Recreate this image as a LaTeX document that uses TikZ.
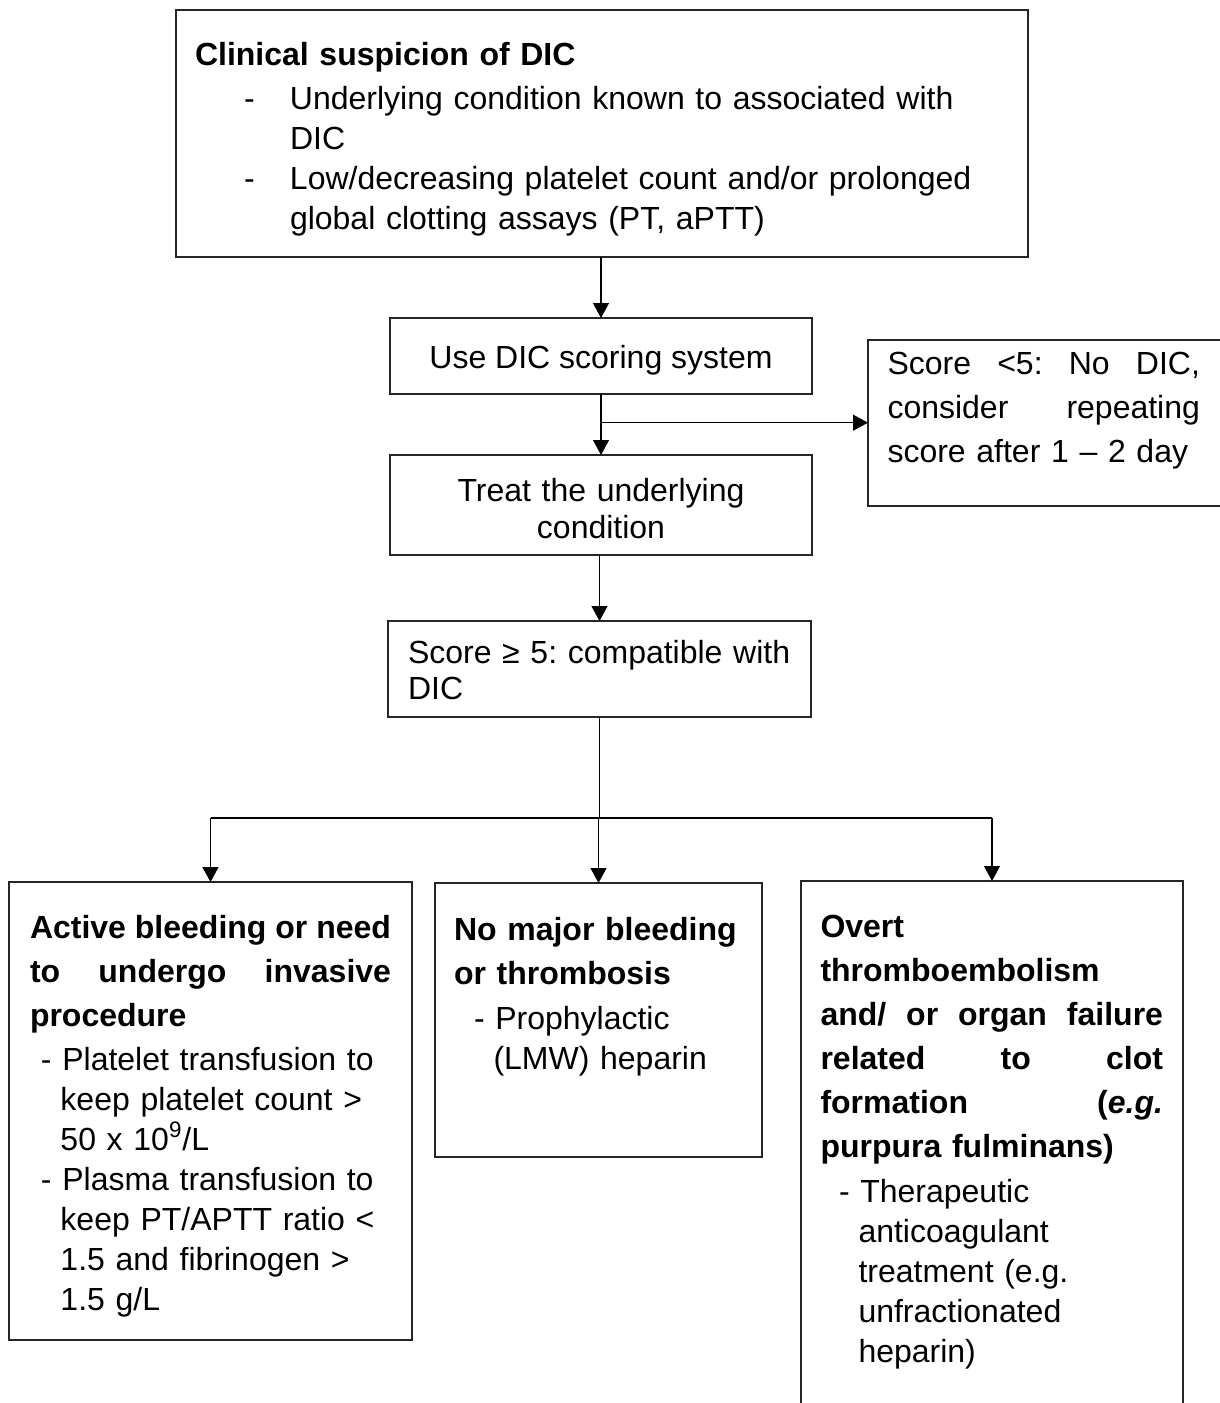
\documentclass[tikz,border=0pt]{standalone}
\usepackage{fontspec}
\setmainfont{Liberation Sans}
\usetikzlibrary{arrows.meta}
\begin{document}
\frenchspacing
\begin{tikzpicture}[x=0.5pt,y=-0.5pt,
  box/.style={draw=black!85, line width=0.6pt, inner sep=0pt, outer sep=0pt},
  txt/.style={inner sep=0pt, outer sep=0pt, align=left, anchor=base west,
    font=\fontsize{16pt}{20pt}\selectfont},
  ctxt/.style={inner sep=0pt, outer sep=0pt, align=center, anchor=base,
    font=\fontsize{16pt}{18.5pt}\selectfont},
  link/.style={line width=0.6pt, draw=black},
  arr/.style={link, -{Triangle[width=8pt,length=7.5pt]}},
]
\useasboundingbox (0,0) rectangle (1220,1403);
\clip (0,0) rectangle (1220,1403);

% frames
\node[box, minimum width=426pt,   minimum height=123.5pt] (top)     at (602,133.5) {};
\node[box, minimum width=211pt,   minimum height=38pt]    (usebox)  at (601,356)   {};
\node[box, minimum width=211pt,   minimum height=50pt]    (treat)   at (601,505)   {};
\node[box, minimum width=211.5pt, minimum height=48pt]    (score)   at (599.5,669) {};
\node[box, minimum width=196pt,   minimum height=83pt]    (note)    at (1064,423)  {};
\node[box, minimum width=201.5pt, minimum height=229pt]   (bleed)   at (210.5,1111) {};
\node[box, minimum width=163.5pt, minimum height=137pt]   (nomajor) at (598.5,1020) {};
\node[box, minimum width=191pt,   minimum height=279.5pt] (thromb)  at (992,1160.5) {};

% texts
\node[txt, text width=420pt] (t-top) at (195,65) {%
\textbf{Clinical suspicion of DIC}\\[2pt]
\hspace*{24.5pt}\makebox[23pt][l]{-}Underlying condition known to associated with\\
\hspace*{47.5pt}DIC\\
\hspace*{24.5pt}\makebox[23pt][l]{-}Low/decreasing platelet count and/or prolonged\\
\hspace*{47.5pt}global clotting assays (PT, aPTT)};

\node[ctxt] (t-use) at (601,368) {Use DIC scoring system};

\node[ctxt, text width=200pt] (t-treat) at (601,501) {Treat the underlying\\condition};

\node[txt, text width=200pt, font=\fontsize{16pt}{18pt}\selectfont] (t-score) at (408,663)
  {Score ≥ 5: compatible with\\DIC};

\node[txt, text width=160pt, font=\fontsize{16pt}{22pt}\selectfont] (t-note) at (887.5,374) {%
\makebox[156.25pt]{Score\hfill <5:\hfill No\hfill DIC,}\\
\makebox[156.25pt]{consider\hfill repeating}\\
score after 1 – 2 day};

\node[txt, text width=200pt] (t-bleed) at (30,938) {%
\makebox[180.5pt]{\bfseries Active\hfill bleeding\hfill or\hfill need}\\[2pt]
\makebox[180.5pt]{\bfseries to\hfill undergo\hfill invasive}\\[2pt]
\textbf{procedure}\\[2pt]
\hspace*{5.5pt}- Platelet transfusion to\\
\hspace*{15.25pt}keep platelet count >\\
\hspace*{15.25pt}50 x 10\textsuperscript{9}/L\\
\hspace*{5.5pt}- Plasma transfusion to\\
\hspace*{15.25pt}keep PT/APTT ratio <\\
\hspace*{15.25pt}1.5 and fibrinogen >\\
\hspace*{15.25pt}1.5 g/L};

\node[txt, text width=160pt] (t-nomajor) at (454,940) {%
\textbf{No major bleeding}\\[2pt]
\textbf{or thrombosis}\\[2.5pt]
\hspace*{10pt}- Prophylactic\\
\hspace*{19.75pt}(LMW) heparin};

\node[txt, text width=180pt] (t-thromb) at (820.5,937) {%
\textbf{Overt}\\[2pt]
\textbf{thromboembolism}\\[2pt]
\makebox[171.25pt]{\bfseries and/\hfill or\hfill organ\hfill failure}\\[2pt]
\makebox[171.25pt]{\bfseries related\hfill to\hfill clot}\\[2pt]
\makebox[171.25pt]{\bfseries formation\hfill (\textit{e.g.}}\\[2pt]
\textbf{purpura fulminans)}\\[2.5pt]
\hspace*{9.25pt}- Therapeutic\\
\hspace*{19pt}anticoagulant\\
\hspace*{19pt}treatment (e.g.\\
\hspace*{19pt}unfractionated\\
\hspace*{19pt}heparin)};

% connectors
\draw[arr] (usebox.north |- top.south) -- (usebox.north);
\draw[arr] (usebox.south) -- (treat.north);
\coordinate (split) at (601,422.7);
\draw[arr] (split) -- (split -| note.west);
\draw[arr] (score.north |- treat.south) -- (score.north);
\coordinate (fork) at (599.5,818);
\draw[link] (score.south) -- (fork);
\draw[link] (fork -| bleed.north) -- (fork -| thromb.north);
\draw[arr] (fork -| bleed.north) -- (bleed.north);
\draw[arr] (fork -| nomajor.north) -- (nomajor.north);
\draw[arr] (fork -| thromb.north) -- (thromb.north);
\end{tikzpicture}
\end{document}
